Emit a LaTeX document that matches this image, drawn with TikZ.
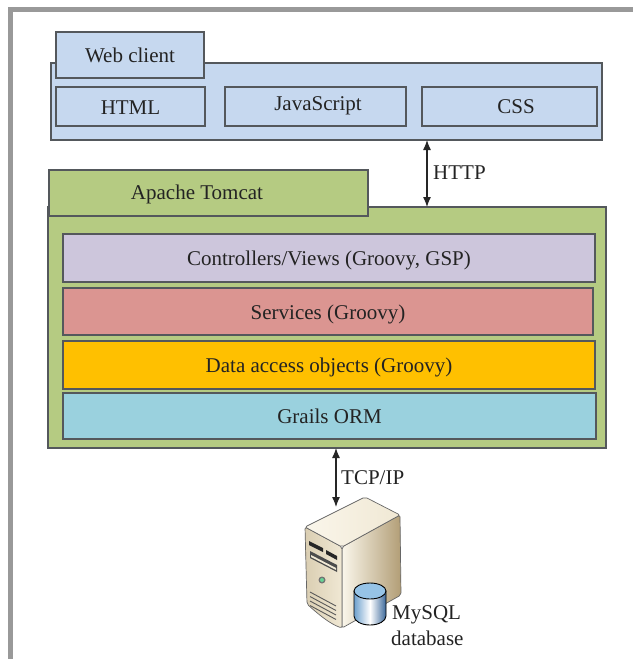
\documentclass[tikz,border=0pt]{standalone}
\usepackage{fontspec}
\setmainfont{Liberation Serif}
\usetikzlibrary{arrows.meta}
\definecolor{frameg}{RGB}{153,153,153}
\definecolor{blueb}{RGB}{198,216,239}
\definecolor{greenb}{RGB}{181,203,130}
\definecolor{lilac}{RGB}{205,198,220}
\definecolor{rosey}{RGB}{219,149,145}
\definecolor{amber}{RGB}{255,192,0}
\definecolor{teal2}{RGB}{154,209,222}
\definecolor{edgeg}{RGB}{84,88,92}
\definecolor{txt}{RGB}{35,35,35}
\definecolor{tanA}{RGB}{250,246,235}
\definecolor{tanB}{RGB}{178,158,118}
\definecolor{tanC}{RGB}{218,206,178}
\definecolor{tanD}{RGB}{240,232,212}
\definecolor{cylA}{RGB}{110,160,205}
\definecolor{cylB}{RGB}{60,105,155}
\definecolor{cylT}{RGB}{150,195,230}
\tikzset{
  x=1pt,y=-1pt,
  panel/.style={draw=edgeg,line width=1.2pt,anchor=north west,inner sep=0pt,outer sep=0pt,font=\fontsize{21}{23}\selectfont,text=txt,text height=15pt,text depth=0pt},
  bluebox/.style={panel,fill=blueb},
  greenbox/.style={panel,fill=greenb},
  lbl/.style={font=\fontsize{21}{23}\selectfont,text=txt,inner sep=0pt},
  link/.style={draw=black!85,line width=1.2pt,{Latex[length=10pt,width=8pt]}-{Latex[length=10pt,width=8pt]}},
  srvline/.style={draw=black!60,line width=.7pt,rounded corners=2pt}
}
\begin{document}
\begin{tikzpicture}
\useasboundingbox (0,0) rectangle (633,659);
\fill[white] (0,0) rectangle (633,659);
\fill[frameg] (8,7) rectangle (633,12);
\fill[frameg] (8,7) rectangle (13,659);
% web client
\node[bluebox,minimum width=551pt,minimum height=77pt] (web) at (51,63) {};
\node[bluebox,minimum width=148pt,minimum height=46pt] (webtab) at (56,32) {Web client};
\node[bluebox,minimum width=149pt,minimum height=39pt] (html) at (56,87) {HTML};
\node[bluebox,minimum width=181pt,minimum height=39pt] (js) at (225,87) {};
\node[lbl] (jst) at (318,106) {JavaScript};
\node[bluebox,minimum width=175pt,minimum height=39pt] (css) at (422,87) {};
\node[lbl] (csst) at (516,107) {CSS};
% tomcat
\node[greenbox,minimum width=558pt,minimum height=241pt] (tom) at (48,207) {};
\node[greenbox,minimum width=319pt,minimum height=46pt] (tomtab) at (49,170) {};
\node[lbl] (tomt) at (197,194) {Apache Tomcat};
\node[panel,fill=lilac,minimum width=532pt,minimum height=48pt] (ctl) at (63,234) {Controllers/Views (Groovy, GSP)};
\node[panel,fill=rosey,minimum width=530pt,minimum height=47pt] (svc) at (63,288) {Services (Groovy)};
\node[panel,fill=amber,minimum width=532pt,minimum height=48pt] (dao) at (63,341) {Data access objects (Groovy)};
\node[panel,fill=teal2,minimum width=533pt,minimum height=46pt] (orm) at (63,393) {Grails ORM};
% server
\coordinate (srvtop) at (336,507);
\begin{scope}[line join=round]
  \shade[left color=tanA,right color=tanB,srvline]
    (342,547) -- (400,515) -- (401,595) -- (342,628) -- cycle;
  \shade[left color=tanC,right color=tanD,srvline]
    (305,527) -- (342,547) -- (342,628) .. controls (330,624) and (318,614) .. (307,604) -- cycle;
  \shade[left color=tanA,right color=tanD,srvline]
    (305,527) -- (365,497) -- (400,515) -- (342,547) -- cycle;
  % drive bays
  \fill[black!85] (309,541) -- (323,548) -- (323,552) -- (309,545) -- cycle;
  \fill[black!85] (326,550) -- (337,556) -- (337,560) -- (326,554) -- cycle;
  \fill[black!70] (310,551) -- (337,565) -- (337,572) -- (310,558) -- cycle;
  \fill[tanD] (311,555) -- (336,568) -- (336,570) -- (311,557) -- cycle;
  % power led
  \fill[black!55] (322,580) circle (3.5pt);
  \fill[green!40!teal!60!white] (322,580) circle (2pt);
  % vents
  \foreach \i in {0,1,2,3}{
    \draw[black!65,line width=.9pt] (310,{592+\i*4.5}) -- (336,{606+\i*4.5});
  }
  % cylinder
  \shade[left color=cylA,right color=cylB,middle color=white,draw=black,line width=.9pt]
    (354,591) -- (354,616) arc[start angle=180,end angle=360,x radius=16pt,y radius=9pt]
    -- (386,591) -- cycle;
  \fill[cylT,draw=black,line width=.9pt] (370,591) ellipse[x radius=16pt,y radius=8pt];
\end{scope}
% connectors
\coordinate (httpx) at (427,0);
\coordinate (tcpx) at (336,0);
\draw[link] (httpx |- web.south) -- (httpx |- tom.north);
\draw[link] (tcpx |- tom.south) -- (srvtop);
% labels
\node[lbl,anchor=west] (http) at (433,173) {HTTP};
\node[lbl,anchor=west] (tcp) at (341,478) {TCP/IP};
\node[lbl,anchor=west] (mysql) at (392,615) {MySQL};
\node[lbl,anchor=west] (dbase) at (391,638) {database};
\end{tikzpicture}
\end{document}
